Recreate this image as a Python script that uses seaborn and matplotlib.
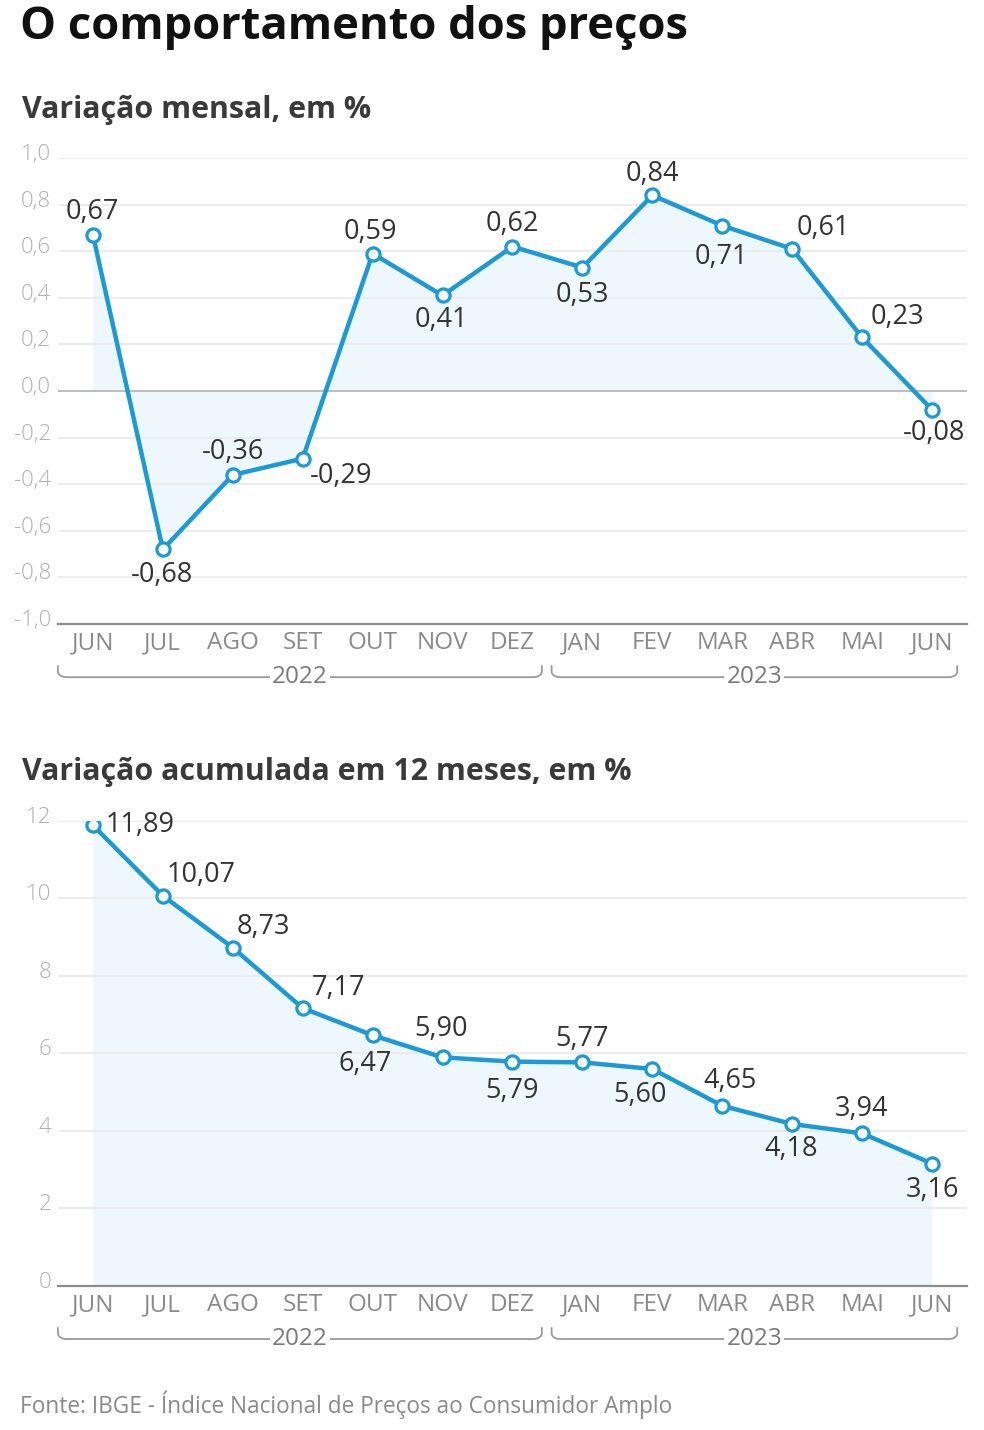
import numpy as np
import matplotlib
matplotlib.use("Agg")
import matplotlib.pyplot as plt
from matplotlib.transforms import blended_transform_factory, ScaledTranslation
import seaborn as sns

# dados
meses = ["JUN", "JUL", "AGO", "SET", "OUT", "NOV", "DEZ",
         "JAN", "FEV", "MAR", "ABR", "MAI", "JUN"]
mensal = [0.67, -0.68, -0.36, -0.29, 0.59, 0.41, 0.62,
          0.53, 0.84, 0.71, 0.61, 0.23, -0.08]
acumulado = [11.89, 10.07, 8.73, 7.17, 6.47, 5.90, 5.79,
             5.77, 5.60, 4.65, 4.18, 3.94, 3.16]
anos = ["2022", "2023"]

# posicao dos rotulos (pixels, relativo ao ponto)
off_mensal = [(-1, 23), (-1, -26), (0, 23), (38, -17), (-2, 22), (-1, -25), (0, 23),
              (0, -27), (0, 21), (-1, -31), (31, 21), (35, 20), (2, -23)]
off_acum = [(47, 0), (38, 21), (31, 21), (36, 20), (-7, -29), (-1, 28), (0, -29),
            (0, 23), (-12, -26), (8, 25), (-1, -25), (-1, 24), (0, -26)]

AZUL = "#1b9ad6"
FILL = "#eef7fc"
CINZA = "#8a8a8a"

sns.set_style("white")
plt.rcParams["font.family"] = ["Open Sans", "DejaVu Sans"]

fig = plt.figure(figsize=(9.84, 14.3), dpi=100)
ax1 = fig.add_axes([0.0589, 0.5636, 0.9238, 0.3259])
ax2 = fig.add_axes([0.0589, 0.1007, 0.9238, 0.3252])


def fmt(v, casas):
    s = f"{v:.{casas}f}".replace(".", ",")
    return "0,0" if s == "-0,0" else s


def bracket(ax, x0, x1, label, y=-0.114, h=0.024, k=0.012, r=0.12):
    trans = blended_transform_factory(ax.transData, ax.transAxes)
    t = np.linspace(np.pi, 1.5 * np.pi, 10)
    xl = np.concatenate([[x0], x0 + r + r * np.cos(t)])
    yl = np.concatenate([[y + h], y + k + k * np.sin(t)])
    t2 = np.linspace(1.5 * np.pi, 2 * np.pi, 10)
    xr = np.concatenate([x1 - r + r * np.cos(t2), [x1]])
    yr = np.concatenate([y + k + k * np.sin(t2), [y + h]])
    ax.plot(np.concatenate([xl, xr]), np.concatenate([yl, yr]), color="#9a9a9a",
            lw=1.3, transform=trans, clip_on=False)
    ax.text((x0 + x1) / 2, y, label, transform=trans, ha="center", va="center",
            fontsize=17.5, color="#7a7a7a",
            bbox=dict(facecolor="white", edgecolor="none", pad=1.5))


def painel(ax, valores, offsets, casas, yticks, ylim, ylabels, zero_line):
    x = np.arange(len(valores))
    ax.fill_between(x, valores, 0, color=FILL, zorder=0.4, lw=0)
    for yt in yticks[1:]:
        ax.axhline(yt, color="#e9e9e9", lw=1.2, zorder=0.6)
    if zero_line:
        ax.axhline(0, color="#bdbdbd", lw=1.4, zorder=0.7)
    sns.lineplot(x=x, y=valores, ax=ax, color=AZUL, lw=3.2, marker="o",
                 markersize=9.5, markerfacecolor="white", markeredgecolor=AZUL,
                 markeredgewidth=2.3, zorder=3)
    for xi, v, (dx, dy) in zip(x, valores, offsets):
        ax.annotate(fmt(v, casas), (xi, v), xytext=(dx, dy), textcoords="offset pixels",
                    ha="center", va="center", fontsize=19.5, color="#333333", zorder=4)
    ax.set_xlim(-0.5, 12.5)
    ax.set_ylim(*ylim)
    ax.set_xticks(x)
    ax.set_xticklabels(meses)
    ax.set_yticks(yticks)
    ax.set_yticklabels(ylabels, fontweight="light")
    ax.set_xlabel("")
    ax.set_ylabel("")
    for s in ["top", "right", "left"]:
        ax.spines[s].set_visible(False)
    ax.spines["bottom"].set_color("#8c8c8c")
    ax.spines["bottom"].set_linewidth(1.6)
    ax.tick_params(axis="x", direction="in", length=9, width=1.2, color="#8c8c8c",
                   labelsize=17.5, labelcolor=CINZA, pad=5)
    ax.tick_params(axis="y", length=0, labelsize=16, labelcolor="#b0b0b0", pad=5)
    shift = ScaledTranslation(0, 6 / 100, fig.dpi_scale_trans)
    for lab in ax.get_yticklabels():
        lab.set_transform(lab.get_transform() + shift)
    bracket(ax, -0.5, 6.42, anos[0])
    bracket(ax, 6.56, 12.36, anos[1])


yt1 = np.round(np.arange(-1.0, 1.01, 0.2), 1)
painel(ax1, mensal, off_mensal, 2, yt1, (-1, 1), [fmt(v, 1) for v in yt1], True)
yt2 = np.arange(0, 13, 2)
painel(ax2, acumulado, off_acum, 2, yt2, (0, 12), [str(v) for v in yt2], False)

fig.text(20 / 984, 1 - 27 / 1430, "O comportamento dos preços", fontsize=32.7,
         fontweight="bold", color="#111111", va="center", ha="left")
fig.text(22 / 984, 1 - 110 / 1430, "Variação mensal, em %", fontsize=21.9,
         fontweight="bold", color="#3a3a3a", va="center", ha="left")
fig.text(22 / 984, 1 - 772 / 1430, "Variação acumulada em 12 meses, em %", fontsize=21.9,
         fontweight="bold", color="#3a3a3a", va="center", ha="left")
fig.text(20 / 984, 1 - 1405 / 1430, "Fonte: IBGE - Índice Nacional de Preços ao Consumidor Amplo",
         fontsize=16.3, color="#8a8a8a", va="center", ha="left")

fig.savefig("out.png", dpi=100)
